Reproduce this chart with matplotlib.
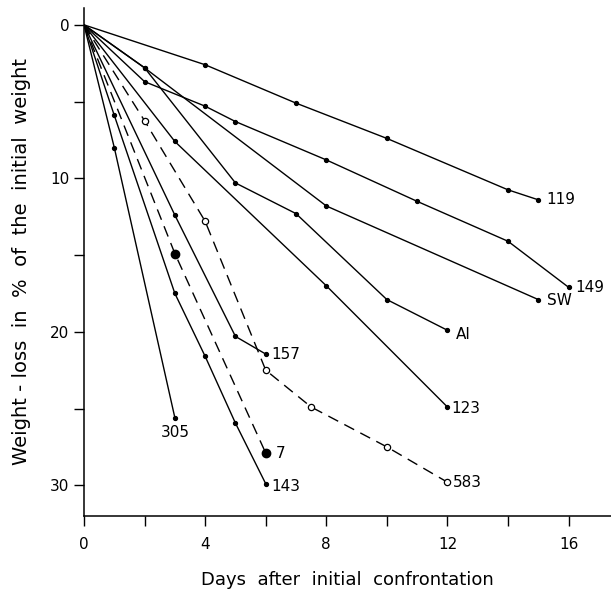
#!/usr/bin/env python
import matplotlib
matplotlib.use('Agg')
import matplotlib.pyplot as plt

# weight-loss curves (days, % of initial weight)
d119 = [0, 4, 7, 10, 14, 15]
w119 = [0, 2.6, 5.1, 7.4, 10.75, 11.4]
d149 = [0, 2, 4, 5, 8, 11, 14, 16]
w149 = [0, 3.7, 5.3, 6.3, 8.8, 11.5, 14.1, 17.1]
dsw = [0, 2, 8, 15]
wsw = [0, 2.8, 11.8, 17.9]
dai = [0, 2, 5, 7, 10, 12]
wai = [0, 2.8, 10.3, 12.3, 17.9, 19.9]
d123 = [0, 3, 8, 12]
w123 = [0, 7.6, 17.0, 24.9]
d157 = [0, 3, 5, 6]
w157 = [0, 12.4, 20.3, 21.45]
d143 = [0, 1, 3, 4, 5, 6]
w143 = [0, 5.9, 17.5, 21.6, 25.95, 29.9]
d305 = [0, 1, 3]
w305 = [0, 8.0, 25.6]
d7 = [0, 3, 6]
w7 = [0, 14.9, 27.9]
d583 = [0, 2, 4, 6, 7.5, 10, 12]
w583 = [0, 6.25, 12.8, 22.5, 24.9, 27.5, 29.8]

solid = [('119', d119, w119), ('149', d149, w149), ('SW', dsw, wsw),
         ('AI', dai, wai), ('123', d123, w123), ('157', d157, w157),
         ('143', d143, w143), ('305', d305, w305)]

xticks = [0, 4, 8, 12, 16]
yticks = [0, 10, 20, 30]

def main():
    fig = plt.figure(figsize=(6.11, 5.95), dpi=100)
    ax = fig.add_axes([0.1375, 0.1328, 0.8625, 0.8538])
    lw = 1.0
    for name, d, w in solid:
        ax.plot(d, w, '-', color='black', lw=lw)
        ax.plot(d[1:], w[1:], 'o', color='black', ms=2.8, mec='black')
    ax.plot(d7, w7, color='black', lw=lw, dashes=(8, 5))
    ax.plot(d7[1:], w7[1:], 'o', color='black', ms=6)
    ax.plot(d583, w583, color='black', lw=lw, dashes=(8, 5))
    ax.plot(d583[1:], w583[1:], 'o', color='black', mfc='white', ms=4.5, mew=0.9)

    # end labels
    right = {'119': (6, 0), '149': (5, 0), 'SW': (6, -1), 'AI': (6, -3),
             '123': (3, -1), '157': (4, 0), '143': (4, -2), '7': (7, 0), '583': (4, 0)}
    for name, d, w in solid + [('7', d7, w7), ('583', d583, w583)]:
        if name == '305':
            ax.annotate(name, (d[-1], w[-1]), xytext=(0, -5), textcoords='offset points',
                        ha='center', va='top', fontsize=11)
        else:
            ox, oy = right[name]
            ax.annotate(name, (d[-1], w[-1]), xytext=(ox, oy), textcoords='offset points',
                        ha='left', va='center', fontsize=11)

    ax.set_xlim(0, 17.4)
    ax.set_ylim(32, -1.1)
    ax.set_xticks(xticks)
    ax.set_xticks(range(0, 17, 2), minor=True)
    ax.set_yticks(yticks)
    ax.set_yticks([5, 15, 25], minor=True)
    ax.tick_params(which='both', direction='out', length=7, width=1, labelsize=11)
    ax.tick_params(axis='x', pad=8)
    for s in ['top', 'right']:
        ax.spines[s].set_visible(False)
    for s in ['left', 'bottom']:
        ax.spines[s].set_linewidth(1.1)
    ax.set_xlabel('Days  after  initial  confrontation', fontsize=13, labelpad=14)
    ax.set_ylabel('Weight - loss  in  %  of  the  initial  weight', fontsize=14, labelpad=14)

    fig.savefig('out.png', dpi=100)

if __name__ == "__main__":
    main()
